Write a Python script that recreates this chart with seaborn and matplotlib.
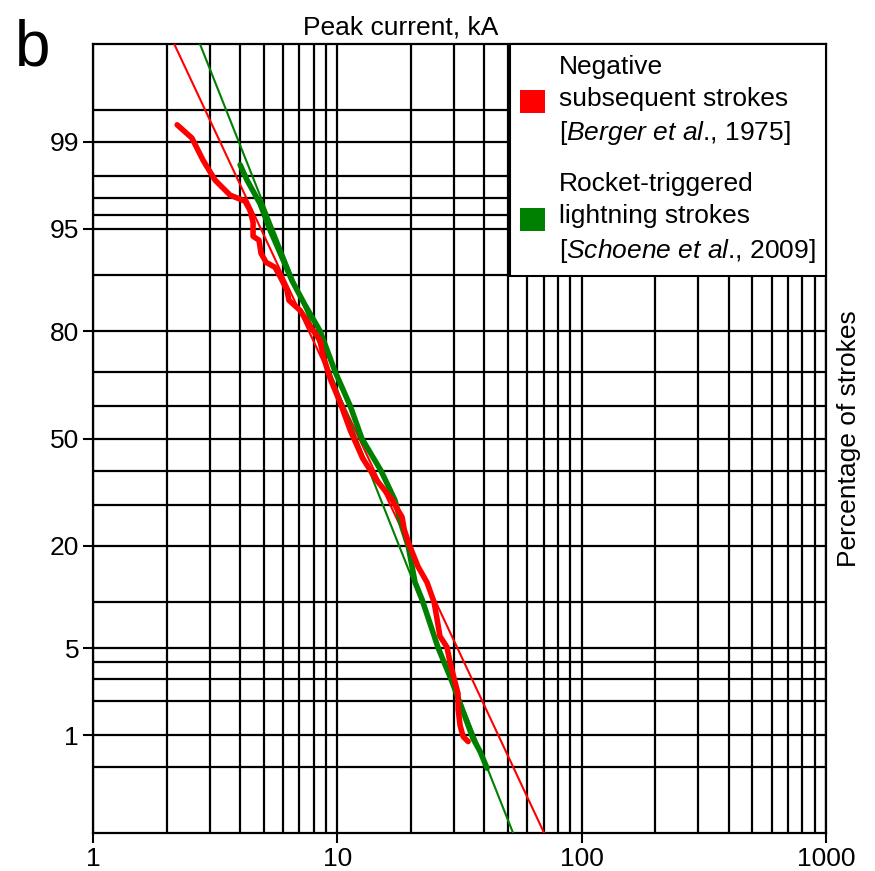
import numpy as np
import pandas as pd
import matplotlib
matplotlib.use("Agg")
import matplotlib.pyplot as plt
import seaborn as sns
from statistics import NormalDist
from matplotlib.ticker import FixedLocator, LogLocator, NullFormatter
from matplotlib.patches import Patch

# ---------------- data ----------------
# Negative subsequent strokes [Berger et al., 1975] - empirical curve
red_current = [2.21, 2.54, 2.82, 3.16, 3.64, 4.19, 4.39, 4.52, 4.52, 4.78, 4.87,
               5.11, 5.56, 5.88, 6.22, 6.34, 7.04, 7.95, 8.50, 8.74, 9.34, 10.3,
               11.3, 12.7, 14.5, 16.8, 17.4, 18.4, 18.8, 19.7, 21.4, 23.3, 24.9,
               25.6, 26.3, 28.1, 28.9, 30.3, 31.2, 31.2, 31.8, 32.7, 34.3]
red_pct = [99.30, 99.07, 98.54, 97.85, 97.17, 96.85, 96.31, 95.49, 94.34, 93.98,
           92.66, 91.62, 91.00, 89.53, 87.72, 86.04, 84.23, 80.15, 77.90, 74.25,
           68.12, 60.82, 52.51, 43.81, 37.18, 31.47, 29.56, 26.93, 23.70, 20.25,
           15.77, 12.96, 9.96, 7.84, 6.07, 5.11, 4.00, 2.83, 2.28, 1.71, 1.23,
           0.98, 0.88]
# Rocket-triggered lightning strokes [Schoene et al., 2009] - empirical curve
green_current = [4.00, 4.27, 4.83, 5.30, 5.83, 6.52, 7.38, 8.50, 9.79, 11.3, 12.6,
                 15.1, 17.2, 18.4, 19.5, 20.8, 22.2, 24.0, 25.8, 29.5, 32.7, 35.9,
                 38.4, 41.0]
green_pct = [98.4, 97.85, 96.7, 94.9, 92.7, 89.2, 85.2, 80.0, 70.0, 60.0, 50.0,
             40.0, 31.5, 24.4, 20.0, 13.0, 10.4, 7.3, 5.1, 2.83, 1.62, 0.94,
             0.71, 0.49]
# log-normal fit lines (end points on the chart edges)
red_fit_current = [2.15, 70.2]
red_fit_pct = [99.9, 0.1]
green_fit_current = [2.74, 52.4]
green_fit_pct = [99.9, 0.1]

x_ticks = [1, 10, 100, 1000]
x_tick_labels = ["1", "10", "100", "1000"]
y_ticks = [1, 5, 20, 50, 80, 95, 99]
y_tick_labels = ["1", "5", "20", "50", "80", "95", "99"]
y_minor_grid = [0.5, 2, 3, 4, 10, 30, 40, 60, 70, 90, 96, 97, 98, 99.5]

legend_labels = [
    "Negative\nsubsequent strokes\n[$\\mathit{Berger\\ et\\ al}$., 1975]",
    "Rocket-triggered\nlightning strokes\n[$\\mathit{Schoene\\ et\\ al}$., 2009]",
]

# ---------------- style ----------------
sns.set_style("white")
plt.rcParams["font.family"] = ["Liberation Sans", "DejaVu Sans"]
plt.rcParams["mathtext.fontset"] = "custom"
plt.rcParams["mathtext.rm"] = "Liberation Sans"
plt.rcParams["mathtext.it"] = "Liberation Sans:italic"
plt.rcParams["text.color"] = "black"
plt.rcParams["axes.labelcolor"] = "black"
plt.rcParams["xtick.color"] = "black"
plt.rcParams["ytick.color"] = "black"

RED = "#ff0000"
GREEN = "#008000"
FS = 19

_nd = NormalDist()
_ppf = np.vectorize(_nd.inv_cdf, otypes=[float])
_cdf = np.vectorize(_nd.cdf, otypes=[float])


def fwd(p):
    p = np.clip(np.asarray(p, dtype=float) / 100.0, 1e-12, 1 - 1e-12)
    return _ppf(p)


def inv(z):
    return _cdf(np.asarray(z, dtype=float)) * 100.0


fig = plt.figure(figsize=(8.75, 8.71), dpi=100)
ax = fig.add_axes([93 / 875, 1 - 833 / 871, 733 / 875, 789 / 871])

sns.lineplot(x=red_fit_current, y=red_fit_pct, color=RED, lw=1.5,
             estimator=None, sort=False, ax=ax, zorder=3)
sns.lineplot(x=green_fit_current, y=green_fit_pct, color=GREEN, lw=1.5,
             estimator=None, sort=False, ax=ax, zorder=3)
sns.lineplot(x=green_current, y=green_pct, color=GREEN, lw=4.0,
             estimator=None, sort=False, ax=ax, zorder=4)
sns.lineplot(x=red_current, y=red_pct, color=RED, lw=4.0,
             estimator=None, sort=False, ax=ax, zorder=5)

ax.set_xscale("log")
ax.set_yscale("function", functions=(fwd, inv))
ax.set_xlim(1, 1000)
ax.set_ylim(0.1, 99.9)

ax.set_xticks(x_ticks, x_tick_labels)
ax.xaxis.set_minor_locator(LogLocator(base=10, subs=np.arange(2, 10)))
ax.xaxis.set_minor_formatter(NullFormatter())
ax.set_yticks(y_ticks, y_tick_labels)
ax.yaxis.set_minor_locator(FixedLocator(y_minor_grid))
ax.yaxis.set_minor_formatter(NullFormatter())

ax.grid(True, which="both", color="black", lw=1.6)
ax.set_axisbelow(True)
ax.tick_params(which="major", direction="out", length=7, width=1.5,
               labelsize=FS, pad=3, bottom=True, left=True, top=False, right=False)
ax.tick_params(which="minor", length=0)
for s in ax.spines.values():
    s.set_visible(True)
    s.set_color("black")
    s.set_linewidth(1.6)

ax.set_xlabel("Peak current, kA", fontsize=FS)
ax.xaxis.set_label_position("top")
ax.xaxis.set_label_coords(0.42, 1.012)
ax.set_ylabel("Percentage of strokes", fontsize=FS, labelpad=8)
ax.yaxis.set_label_position("right")

handles = [Patch(facecolor=RED, edgecolor="none"),
           Patch(facecolor=GREEN, edgecolor="none")]
leg = ax.legend(handles, legend_labels, loc="upper right", bbox_to_anchor=(1, 1),
                borderaxespad=0, frameon=True, fancybox=False, framealpha=1,
                edgecolor="black", fontsize=FS, handlelength=0.95, handleheight=0.95,
                handletextpad=0.5, labelspacing=0.95, borderpad=0.4)
for t in leg.get_texts():
    t.set_linespacing(1.42)
leg.get_frame().set_linewidth(1.5)
leg.set_zorder(10)

fig.text(15 / 875, 1 - 65 / 871, "b", fontsize=46, va="baseline", ha="left")

fig.savefig("out.png", dpi=100)
